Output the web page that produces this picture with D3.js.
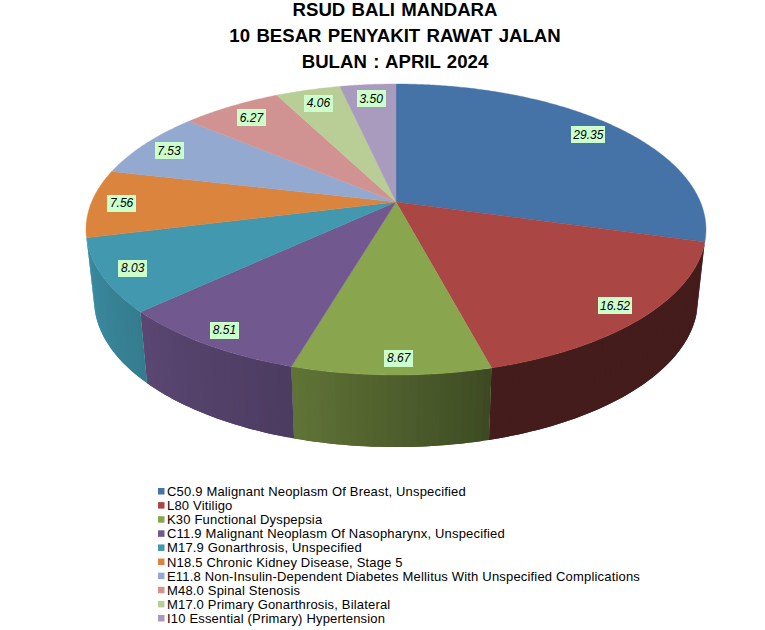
<!DOCTYPE html>
<html><head><meta charset="utf-8">
<script src="https://cdn.jsdelivr.net/npm/d3@7/dist/d3.min.js"></script>
<style>html,body{margin:0;padding:0;background:#fff}svg{display:block}text{font-family:"Liberation Sans",Arial,sans-serif}</style>
</head><body><svg id="c" width="765" height="630"></svg>
<script>
(function(){
const titleLines = ["RSUD BALI MANDARA","10 BESAR PENYAKIT RAWAT JALAN","BULAN : APRIL 2024"];
const categories = ["C50.9 Malignant Neoplasm Of Breast, Unspecified","L80 Vitiligo","K30 Functional Dyspepsia","C11.9 Malignant Neoplasm Of Nasopharynx, Unspecified","M17.9 Gonarthrosis, Unspecified","N18.5 Chronic Kidney Disease, Stage 5","E11.8 Non-Insulin-Dependent Diabetes Mellitus With Unspecified Complications","M48.0 Spinal Stenosis","M17.0 Primary Gonarthrosis, Bilateral","I10 Essential (Primary) Hypertension"];
const values = [29.35,16.52,8.67,8.51,8.03,7.56,7.53,6.27,4.06,3.50];
const colors = ["#4572A7","#AA4643","#89A54E","#71588F","#4198AF","#DB843D","#93A9CF","#D19392","#B9CD96","#A99BBD"];

const svg = d3.select("#c");
const deg = d3.scaleLinear().domain([0,180]).range([0,Math.PI]);
const persp = 0.189;
const sx = d3.scaleLinear().domain([-1,1]).range([396-304.4,396+304.4]);
const sy = d3.scaleLinear().domain([-1,1]).range([202-140.3,202+140.3]);
const floorScaleX = 0.974, floorScaleY = 1.012, floorDrop = 70;
function project(angle, rho, floor){
  const u = rho*Math.sin(angle), v = -rho*Math.cos(angle), w = 1-persp*v;
  const dx = sx(u/w)-sx(0), dy = sy(v/w)-sy(0);
  return floor ? [sx(0)+dx*floorScaleX, sy(0)+dy*floorScaleY+floorDrop] : [sx(0)+dx, sy(0)+dy];
}
const shade = d3.scaleLinear()
  .domain([105,165,166,196,197,227,228,256].map(deg))
  .range([.40,.40,.46,.70,.68,.80,.82,.92]).clamp(true);
const pie = d3.pie().value(d=>d).sort(null);
const arcs = pie(values);
const line = d3.line();
const step = deg(1.2);

// side wall: overlapping strips so no seams show
const wall = svg.append("g");
arcs.forEach((a,i)=>{
  const mid=(a.startAngle+a.endAngle)/2;
  if(-Math.cos(mid)<0.05) return;
  const n=Math.max(1,Math.ceil((a.endAngle-a.startAngle)/step));
  const dt=(a.endAngle-a.startAngle)/n;
  d3.range(n).forEach(j=>{
    const t0=a.startAngle+dt*j, t1=t0+dt, tEnd=Math.min(a.endAngle, t1+dt);
    const c=d3.rgb(colors[i]), f=shade((t0+t1)/2);
    const col=d3.rgb(c.r*f,c.g*f,c.b*f).formatHex();
    const tm=(t0+tEnd)/2;
    wall.append("path").attr("d",line([project(t0,1,false),project(tm,1,false),project(tEnd,1,false),project(tEnd,1,true),project(tm,1,true),project(t0,1,true)])+"Z")
      .attr("fill",col);
  });
});

// top face
const face = svg.append("g");
arcs.forEach((a,i)=>{
  const n=Math.ceil((a.endAngle-a.startAngle)/deg(0.5));
  const pts=[[sx(0),sy(0)]].concat(d3.range(n+1).map(j=>project(a.startAngle+(a.endAngle-a.startAngle)*j/n,1,false)));
  face.append("path").attr("d",line(pts)+"Z").attr("fill",colors[i]).attr("stroke",colors[i]).attr("stroke-width",0.4);
});

// value labels
const labelNudge = [0,-3,7,0,0,-3,-5,1,0,0];
const labels = svg.append("g");
arcs.forEach((a,i)=>{
  const mid=(a.startAngle+a.endAngle)/2, v=-Math.cos(mid);
  const [x0,y]=project(mid,0.89+0.03*v,false);
  const x=x0+labelNudge[i];
  const txt=values[i].toFixed(2), w=txt.length>4?34:29;
  labels.append("rect").attr("x",Math.round(x-w/2)).attr("y",Math.round(y-8.5)).attr("width",w).attr("height",17).attr("fill","#CCFFCC");
  labels.append("text").attr("x",x).attr("y",y+4).attr("text-anchor","middle").attr("font-size",12).attr("font-style","italic").attr("fill","#000").text(txt);
});

// title
svg.append("g").selectAll("text").data(titleLines).join("text")
  .attr("x",395).attr("y",(d,i)=>16+i*26).attr("text-anchor","middle")
  .attr("font-size",18.6).attr("font-weight","bold").attr("word-spacing",1.2).attr("fill","#000").text(d=>d);

// legend
const rowY = d3.scaleLinear().domain([0,9]).range([491.5,618.5]);
const lg = svg.append("g").selectAll("g").data(categories).join("g");
lg.append("rect").attr("x",158).attr("y",(d,i)=>rowY(i)-3.5).attr("width",6.5).attr("height",6.5).attr("fill",(d,i)=>colors[i]);
lg.append("text").attr("x",167).attr("y",(d,i)=>rowY(i)+4.5).attr("font-size",13).attr("letter-spacing",0.18).attr("fill","#000").text(d=>d);
})();
</script></body></html>
